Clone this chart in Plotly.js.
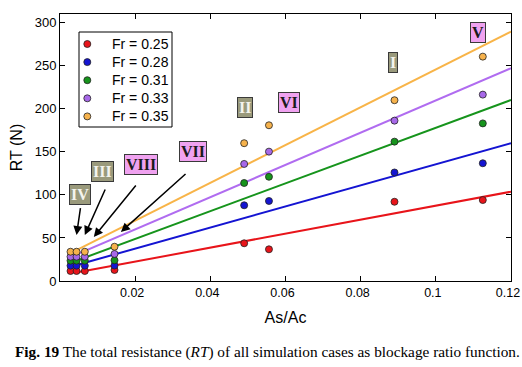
<!DOCTYPE html>
<html>
<head>
<meta charset="utf-8">
<script src="https://cdn.plot.ly/plotly-3.0.1.min.js"></script>
<style>
html,body{margin:0;padding:0;background:#fff;}
#chart{width:522px;height:367px;}
</style>
</head>
<body>
<div id="chart"></div>
<script>
// ---- data ----
const seriesNames = ["Fr = 0.25", "Fr = 0.28", "Fr = 0.31", "Fr = 0.33", "Fr = 0.35"];
const blockage = [0.0028, 0.0044, 0.0066, 0.0145, 0.049, 0.0556, 0.089, 0.1125];
const rt025 = [11.6, 11.6, 11.6, 12.8, 43.8, 36.8, 92, 94];
const rt028 = [17.8, 17.8, 17.8, 18, 87.9, 92.9, 126, 136.7];
const rt031 = [23.6, 23.6, 23.6, 24, 113.8, 121, 161.8, 183];
const rt033 = [28.2, 28.2, 28.2, 31.4, 135.9, 150.2, 186.2, 216.4];
const rt035 = [34, 34, 34, 39.8, 160, 180.8, 209.9, 260.5];
const fitX = [0.004, 0.12];
const fit025 = [9.5, 103.7];
const fit028 = [18, 160];
const fit031 = [23, 210.2];
const fit033 = [30, 247];
const fit035 = [35, 289.5];
const caseLabels = ["I", "II", "III", "IV", "V", "VI", "VII", "VIII"];
const caseLabelX = [0.0887, 0.0491, 0.0114, 0.0053, 0.1112, 0.0609, 0.0355, 0.0216];
const caseLabelY = [253.2, 200.9, 126.6, 99.9, 288, 206.7, 149.8, 134.7];
const caseGroup = ["gray", "gray", "gray", "gray", "pink", "pink", "pink", "pink"];
const arrowHeadX = [0.0044, 0.0066, 0.009, 0.0162];
const arrowHeadY = [53.4, 53.4, 51.1, 56.9];
const arrowTailX = [0.0055, 0.0122, 0.0205, 0.0338];
const arrowTailY = [86.3, 108, 112.7, 125.8];

const xTicks = [0.02, 0.04, 0.06, 0.08, 0.1, 0.12];
const xTickText = ["0.02", "0.04", "0.06", "0.08", "0.1", "0.12"];
const yTicks = [0, 50, 100, 150, 200, 250, 300];

// ---- styles ----
const markerColors = ["#e8141a", "#1414d2", "#16941c", "#a768e8", "#f6b24c"];
const lineColors = ["#e8141a", "#1414d2", "#16941c", "#b06cf0", "#f8b448"];
const allRT = [rt025, rt028, rt031, rt033, rt035];
const allFit = [fit025, fit028, fit031, fit033, fit035];

const W = 522, H = 367;
const M = {l: 60, r: 11, t: 14, b: 86};
const plotW = W - M.l - M.r, plotH = H - M.t - M.b;
const pxX = px => (px - M.l) / plotW;          // page px -> paper x
const pxY = py => (H - M.b - py) / plotH;      // page px -> paper y

const traces = [];
for (let i = 0; i < 5; i++) {
  traces.push({
    x: fitX, y: allFit[i], mode: "lines", type: "scatter",
    line: {color: lineColors[i], width: 2}, showlegend: false, hoverinfo: "skip"
  });
}
for (let i = 0; i < 5; i++) {
  traces.push({
    x: blockage, y: allRT[i], mode: "markers", type: "scatter", name: seriesNames[i],
    showlegend: false,
    marker: {color: markerColors[i], size: 7, line: {color: "#222", width: 0.8}}
  });
}

const annotations = [];
const shapes = [];
for (let i = 0; i < arrowHeadX.length; i++) {
  annotations.push({
    x: arrowHeadX[i], y: arrowHeadY[i], xref: "x", yref: "y",
    ax: arrowTailX[i], ay: arrowTailY[i], axref: "x", ayref: "y",
    text: "", showarrow: true, arrowhead: 2, arrowsize: 1.2, arrowwidth: 1.5, arrowcolor: "#000"
  });
}
for (let i = 0; i < caseLabels.length; i++) {
  const gray = caseGroup[i] === "gray";
  annotations.push({
    x: caseLabelX[i], y: caseLabelY[i], xref: "x", yref: "y",
    text: "<b>" + caseLabels[i] + "</b>", showarrow: false,
    font: {family: "Liberation Serif, Times New Roman, serif", size: 16, color: gray ? "#f4f4ee" : "#1a1a1a"},
    bgcolor: gray ? "#9a9a7c" : "#f0a2f0", bordercolor: "#3a3a3a", borderwidth: 1, borderpad: 1
  });
}

// legend (drawn manually to match the compact row spacing)
const legBox = {left: 79, right: 172, top: 32, bottom: 127};
const legRow0 = 44, legRowH = 18.1, legMarkX = 87.3, legTextX = 110;
shapes.push({
  type: "rect", xref: "paper", yref: "paper",
  x0: pxX(legBox.left), x1: pxX(legBox.right), y0: pxY(legBox.bottom), y1: pxY(legBox.top),
  line: {color: "#000", width: 1}, fillcolor: "#fff", layer: "above"
});
for (let i = 0; i < seriesNames.length; i++) {
  const cy = legRow0 + i * legRowH;
  shapes.push({
    type: "circle", xref: "paper", yref: "paper", xsizemode: "pixel", ysizemode: "pixel",
    xanchor: pxX(legMarkX), yanchor: pxY(cy), x0: -3.5, x1: 3.5, y0: -3.5, y1: 3.5,
    fillcolor: markerColors[i], line: {color: "#222", width: 0.8}, layer: "above"
  });
  annotations.push({
    xref: "paper", yref: "paper", x: pxX(legTextX), y: pxY(cy), xanchor: "left", yanchor: "middle",
    text: seriesNames[i], showarrow: false,
    font: {family: "Liberation Sans, Arial, sans-serif", size: 14, color: "#000"}
  });
}

annotations.push({
  xref: "paper", yref: "paper", x: pxX(13), y: pxY(352), xanchor: "left", yanchor: "middle",
  showarrow: false,
  text: "<b>Fig. 19</b> The total resistance (<i>RT</i>) of all simulation cases as blockage ratio function.",
  font: {family: "Liberation Serif, Times New Roman, serif", size: 15.3, color: "#000"}
});

const layout = {
  width: W, height: H,
  margin: M,
  paper_bgcolor: "#fff", plot_bgcolor: "#fff",
  font: {family: "Liberation Sans, Arial, sans-serif", size: 13, color: "#000"},
  xaxis: {
    range: [0, 0.12], tickvals: xTicks, ticktext: xTickText, ticklabeloverflow: "allow",
    ticklabelshift: -3,
    ticks: "inside", ticklen: 5, tickcolor: "#000", showgrid: false, zeroline: false,
    showline: true, linecolor: "#000", linewidth: 1, mirror: "ticks",
    title: {text: "As/Ac", font: {size: 16}, standoff: 12},
    tickfont: {size: 12.5}
  },
  yaxis: {
    range: [0, 310], tickvals: yTicks,
    ticks: "inside", ticklen: 5, tickcolor: "#000", showgrid: false, zeroline: false,
    showline: true, linecolor: "#000", linewidth: 1, mirror: "ticks",
    title: {text: "RT (N)", font: {size: 16}, standoff: 8},
    tickfont: {size: 13}
  },
  annotations: annotations,
  shapes: shapes,
  showlegend: false
};

Plotly.newPlot("chart", traces, layout, {displayModeBar: false, staticPlot: true});
</script>
</body>
</html>
